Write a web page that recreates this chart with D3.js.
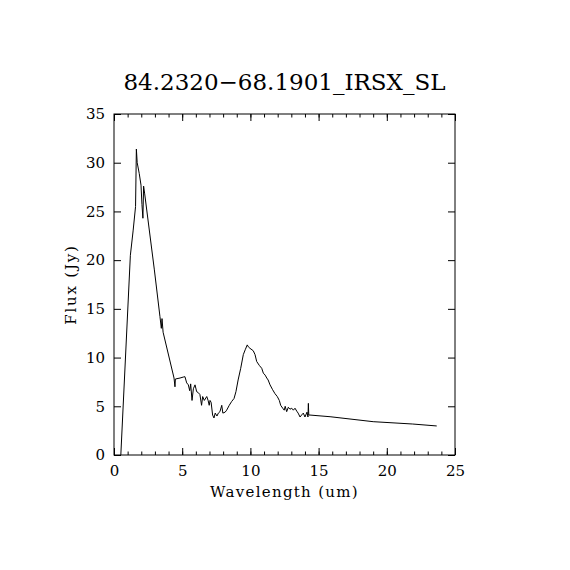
<!doctype html>
<html lang="en">
<head>
<meta charset="utf-8">
<title>84.2320-68.1901_IRSX_SL</title>
<style>
  body { margin: 0; background: #fff; }
  text { font-family: "DejaVu Serif", "Liberation Serif", serif; fill: #000; }
</style>
<script src="https://d3js.org/d3.v7.min.js"></script>
</head>
<body>
<div id="chart"></div>
<script>
// spectrum
var wavelength = [0.50, 1.20, 1.40, 1.58, 1.64, 1.70, 1.85, 1.98, 2.05, 2.12, 2.17, 2.25,
  2.96, 3.37, 3.47, 3.52, 3.60, 4.40, 4.47, 4.50, 4.84, 5.08, 5.20, 5.33, 5.45, 5.55, 5.62, 5.72,
  5.82, 5.94, 6.06, 6.18, 6.30, 6.42, 6.50, 6.62, 6.80, 6.90, 6.98, 7.04, 7.12, 7.23, 7.33, 7.42,
  7.55, 7.65, 7.77, 7.90, 7.98, 8.15, 8.26, 8.45, 8.63, 8.80, 8.94, 9.10, 9.29, 9.48, 9.62, 9.77,
  9.85, 9.97, 10.21, 10.34, 10.46, 10.65, 10.83, 10.95, 11.08, 11.20, 11.30, 11.44, 11.63, 11.80,
  11.97, 12.12, 12.22, 12.37, 12.48, 12.55, 12.66, 12.78, 12.90, 13.03, 13.15, 13.27, 13.40, 13.50,
  13.64, 13.75, 13.88, 14.00, 14.15, 14.22, 14.25, 14.28, 14.37, 15.84, 19.00, 21.90, 23.66];
var flux = [0.0, 20.5, 23.0, 25.5, 31.4, 30.0, 28.9, 27.7, 25.7, 24.3, 27.6, 26.8,
  19.0, 14.2, 13.0, 14.0, 12.6, 7.9, 7.0, 7.8, 7.9, 8.0, 8.04, 7.4, 7.2, 6.6, 7.3, 5.6,
  6.8, 7.2, 6.5, 6.4, 6.2, 5.1, 6.0, 5.6, 6.0, 5.6, 5.1, 5.6, 5.4, 4.1, 3.8, 4.3,
  4.0, 4.3, 4.45, 5.1, 4.3, 4.4, 4.6, 5.1, 5.5, 5.8, 6.5, 7.7, 8.9, 10.3, 10.8, 11.3,
  11.1, 10.95, 10.7, 10.3, 9.6, 9.2, 8.9, 8.4, 8.2, 7.9, 7.7, 7.2, 6.7, 6.3,
  6.0, 5.6, 5.1, 4.8, 4.6, 5.0, 4.45, 4.9, 4.7, 4.8, 4.6, 4.8, 4.5, 4.3,
  3.9, 4.1, 4.3, 3.9, 4.4, 3.9, 5.3, 4.1, 4.1, 3.93, 3.42, 3.18, 2.98];

var xTicks = [0, 5, 10, 15, 20, 25];
var yTicks = [0, 5, 10, 15, 20, 25, 30, 35];
var xMinor = d3.range(0, 26, 1);

var margin = {top: 114, right: 115, bottom: 115, left: 114},
    width = 570 - margin.left - margin.right,
    height = 570 - margin.top - margin.bottom;

var svg = d3.select('#chart').append('svg')
  .attr('width', 570)
  .attr('height', 570);

var g = svg.append('g')
  .attr('transform', 'translate(' + margin.left + ',' + margin.top + ')');

var x = d3.scaleLinear().domain([0, 25]).range([0, width]);
var y = d3.scaleLinear().domain([0, 35]).range([height, 0]);

// frame
g.append('rect')
  .attr('width', width)
  .attr('height', height)
  .attr('fill', 'none')
  .attr('stroke', '#000')
  .attr('stroke-width', 1);

// bottom axis with labels, ticks point inward
var xAxis = g.append('g')
  .attr('transform', 'translate(0,' + height + ')')
  .call(d3.axisBottom(x).tickValues(xTicks).tickSize(-7).tickPadding(10));
xAxis.select('.domain').remove();
xAxis.selectAll('text').attr('font-size', '15px').attr('font-family', 'DejaVu Serif');

g.append('g')
  .attr('transform', 'translate(0,' + height + ')')
  .call(d3.axisBottom(x).tickValues(xMinor).tickSize(-3.5).tickFormat(''))
  .select('.domain').remove();

// top axis, no labels
var xTop = g.append('g')
  .call(d3.axisTop(x).tickValues(xTicks).tickSize(-7).tickFormat(''));
xTop.select('.domain').remove();
g.append('g')
  .call(d3.axisTop(x).tickValues(xMinor).tickSize(-3.5).tickFormat(''))
  .select('.domain').remove();

// left axis
var yAxis = g.append('g')
  .call(d3.axisLeft(y).tickValues(yTicks).tickSize(-7).tickPadding(9));
yAxis.select('.domain').remove();
yAxis.selectAll('text').attr('font-size', '15px').attr('font-family', 'DejaVu Serif');

// right axis
g.append('g')
  .attr('transform', 'translate(' + width + ',0)')
  .call(d3.axisRight(y).tickValues(yTicks).tickSize(-7).tickFormat(''))
  .select('.domain').remove();

// spectrum
var pts = wavelength.map(function(w, i) { return [w, flux[i]]; });
g.append('path')
  .datum(pts)
  .attr('fill', 'none')
  .attr('stroke', '#000')
  .attr('stroke-width', 1)
  .attr('d', d3.line()
    .x(function(d) { return x(d[0]); })
    .y(function(d) { return y(d[1]); }));

// title
svg.append('text')
  .attr('x', margin.left + width / 2)
  .attr('y', 90)
  .style('text-anchor', 'middle')
  .attr('font-size', '23px')
  .text('84.2320\u221268.1901_IRSX_SL');

// x axis label
svg.append('text')
  .attr('x', margin.left + width / 2)
  .attr('y', 497)
  .style('text-anchor', 'middle')
  .style('letter-spacing', '1.3px')
  .attr('font-size', '15px')
  .text('Wavelength (um)');

// y axis label
svg.append('text')
  .attr('transform', 'translate(76,' + (margin.top + height / 2) + ') rotate(-90)')
  .style('text-anchor', 'middle')
  .style('letter-spacing', '1.8px')
  .attr('font-size', '15px')
  .text('Flux (Jy)');
</script>
</body>
</html>
